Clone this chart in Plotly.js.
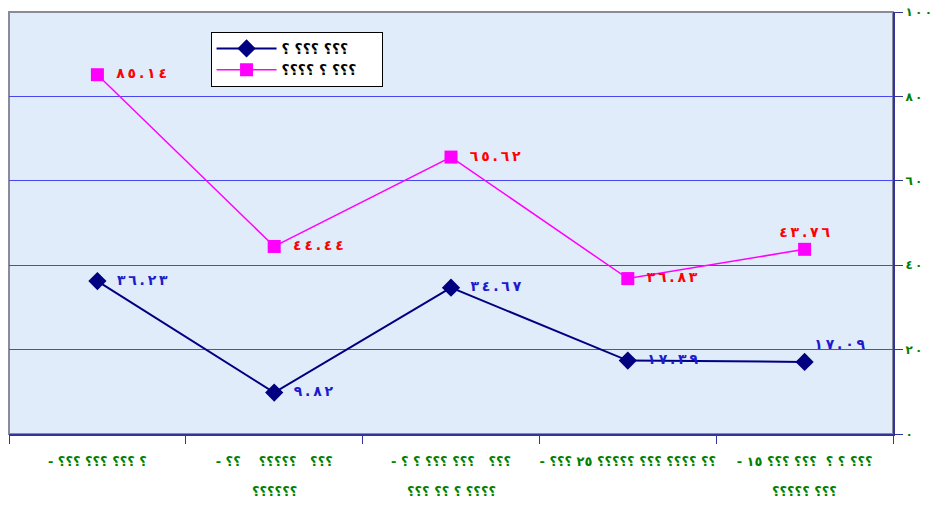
<!DOCTYPE html>
<html>
<head>
<meta charset="utf-8">
<script src="https://cdn.plot.ly/plotly-3.0.1.min.js"></script>
<style>html,body{margin:0;padding:0;background:#fff;}#chart{width:938px;height:505px;}</style>
</head>
<body>
<div id="chart"></div>
<script>
// Data
const categories = ['c1', 'c2', 'c3', 'c4', 'c5'];
const catLine1 = [
  '- ؟؟؟ ؟؟؟ ؟؟؟ ؟',
  '- ؟؟    ؟؟؟؟؟   ؟؟؟',
  '- ؟ ؟ ؟؟؟ ؟؟؟   ؟؟؟',
  '- ؟؟؟ ٢٥ ؟؟؟؟؟ ؟؟؟ ؟؟؟؟ ؟؟',
  '- ١٥ ؟؟؟ ؟؟؟  ؟ ؟ ؟؟؟'
];
const catLine2 = ['', '؟؟؟؟؟؟', '؟؟؟ ؟؟ ؟ ؟؟؟؟', '', '؟؟؟؟؟ ؟؟؟'];
const seriesNames = ['؟ ؟؟؟ ؟؟؟', '؟؟؟؟ ؟ ؟؟؟'];
const series1 = [36.23, 9.82, 34.67, 17.39, 17.09];
const series2 = [85.14, 44.44, 65.62, 36.83, 43.76];
const labels1 = ['٣٦.٢٣', '٩.٨٢', '٣٤.٦٧', '١٧.٣٩', '١٧.٠٩'];
const labels2 = ['٨٥.١٤', '٤٤.٤٤', '٦٥.٦٢', '٣٦.٨٣', '٤٣.٧٦'];
const yTickVals = [0, 20, 40, 60, 80, 100];
const yTickText = ['٠', '٢٠', '٤٠', '٦٠', '٨٠', '١٠٠'];

const fontFam = 'DejaVu Sans, Arial, sans-serif';
const LRO = '\u202D', PDF = '\u202C', THIN = '\u2009', NB = '\u00A0';
// force visual left-to-right order of characters
const vis = s => LRO + s + PDF;
// spaced digits (wide Arabic numerals look)
const spaced = s => LRO + Array.from(s).join(THIN) + PDF;

const pos1 = ['middle right', 'middle right', 'middle right', 'middle right', 'top right'];
const pos2 = ['middle right', 'middle right', 'middle right', 'middle right', 'top center'];
const fmt = (labs, pos) => labs.map((l, i) => (pos[i] === 'middle right' ? NB + NB : '') + spaced(l));

const traces = [
  {
    x: categories, y: series1, name: vis(seriesNames[0]) + NB.repeat(4), type: 'scatter',
    mode: 'lines+markers+text',
    line: {color: '#000080', width: 2},
    marker: {symbol: 'diamond', size: 14, color: '#000080'},
    text: fmt(labels1, pos1),
    textposition: pos1,
    textfont: {family: fontFam, size: 14, color: '#1c1ccc', weight: 'bold'},
    cliponaxis: false
  },
  {
    x: categories, y: series2, name: vis(seriesNames[1]) + NB.repeat(4), type: 'scatter',
    mode: 'lines+markers+text',
    line: {color: '#ff00ff', width: 1.5},
    marker: {symbol: 'square', size: 13, color: '#ff00ff'},
    text: fmt(labels2, pos2),
    textposition: pos2,
    textfont: {family: fontFam, size: 14, color: '#ff0000', weight: 'bold'},
    cliponaxis: false
  }
];

const annotations = catLine2.map((t, i) => ({
  x: categories[i], xref: 'x', y: -0.137, yref: 'paper',
  text: vis(t), showarrow: false, yanchor: 'middle', xanchor: 'center',
  font: {family: fontFam, size: 13, color: '#008000', weight: 'bold'}
})).filter((a, i) => catLine2[i] !== '');

const layout = {
  width: 938, height: 505,
  margin: {l: 9, r: 45, t: 12, b: 71},
  paper_bgcolor: '#ffffff',
  plot_bgcolor: '#e0ecfa',
  showlegend: true,
  legend: {
    x: 0.228, y: 0.953, xanchor: 'left', yanchor: 'top',
    bgcolor: '#ffffff', bordercolor: '#000000', borderwidth: 1,
    font: {family: fontFam, size: 14, color: '#000000', weight: 'bold'},
    itemwidth: 60,
    tracegroupgap: 0
  },
  xaxis: {
    type: 'category', range: [-0.5, 4.5], autorange: false,
    tickvals: categories, ticktext: catLine1.map(vis),
    tickangle: 0,
    tickson: 'boundaries',
    ticks: 'outside', ticklen: 8, tickcolor: '#333399', tickwidth: 1,
    showline: true, linecolor: '#333399', linewidth: 2,
    showgrid: false, zeroline: false,
    ticklabelstandoff: 14,
    tickfont: {family: fontFam, size: 13, color: '#008000', weight: 'bold'},
    fixedrange: true
  },
  yaxis: {
    side: 'right', range: [0, 100], autorange: false,
    tickvals: yTickVals, ticktext: yTickText.map(spaced),
    ticks: 'outside', ticklen: 8, tickcolor: '#333399', tickwidth: 1,
    showline: true, linecolor: '#333399', linewidth: 2,
    showgrid: true, gridcolor: '#4646f2', gridwidth: 1,
    zeroline: false,
    tickfont: {family: fontFam, size: 12, color: '#008000', weight: 'bold'},
    fixedrange: true
  },
  shapes: [{
    type: 'rect', xref: 'paper', yref: 'paper', x0: 0, x1: 1, y0: 0, y1: 1,
    line: {color: '#8a8a99', width: 2}, layer: 'below'
  }],
  annotations: annotations
};

Plotly.newPlot('chart', traces, layout, {staticPlot: true, displayModeBar: false});
</script>
</body>
</html>
